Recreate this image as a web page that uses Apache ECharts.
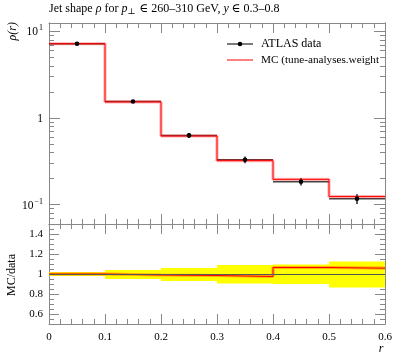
<!DOCTYPE html>
<html><head><meta charset="utf-8">
<script src="https://cdn.jsdelivr.net/npm/echarts@6/dist/echarts.min.js"></script>
<style>html,body{margin:0;padding:0;background:#fff}#c{width:397px;height:358px}</style>
</head><body><div id="c"></div>
<script>
// ---- data ----
const binEdges = [0, 0.1, 0.2, 0.3, 0.4, 0.5, 0.6];
const binCenters = [0.05, 0.15, 0.25, 0.35, 0.45, 0.55];
const dataValues = [7.2, 1.55, 0.63, 0.33, 0.184, 0.117];
const dataErrors = [0.14, 0.06, 0.04, 0.03, 0.018, 0.015];
const mcValues = [7.2, 1.535, 0.62, 0.322, 0.196, 0.124];
const ratioValues = [1.0, 0.99, 0.985, 0.975, 1.065, 1.058];
const ratioBandLow = [0.98, 0.95, 0.93, 0.905, 0.90, 0.865];
const ratioBandHigh = [1.02, 1.04, 1.06, 1.09, 1.095, 1.125];
const yLogTicks = [0.1, 1, 10];
const ratioTicks = [0.6, 0.8, 1, 1.2, 1.4];
const xTickLabels = ['0', '0.1', '0.2', '0.3', '0.4', '0.5', '0.6'];

// ---- helpers ----
const FONT = "'Liberation Serif', 'DejaVu Serif', serif";
const AX = '#888';
function stepPts(vals) {
  const pts = [];
  vals.forEach((v, i) => { pts.push([binEdges[i], v]); pts.push([binEdges[i + 1], v]); });
  return pts;
}
const logMinor = [];
[-2, -1, 0, 1].forEach(k => { for (let m = 2; m <= 9; m++) { const v = m * Math.pow(10, k); if (v >= 0.0598 && v <= 12.5) logMinor.push(+v.toPrecision(3)); } });
const ratioMinor = [];
for (let i = 0; i <= 20; i++) ratioMinor.push(+(0.5 + i * 0.05).toFixed(2));

function xAxisCfg(grid, pos, labels) {
  return {
    type: 'value', gridIndex: grid, position: pos, min: 0, max: 0.6, interval: 0.1,
    axisLine: { show: true, lineStyle: { color: AX, width: 1 } },
    axisTick: { show: true, inside: true, length: 10, lineStyle: { color: AX } },
    minorTick: { show: true, splitNumber: 5, length: 5, lineStyle: { color: AX } },
    splitLine: { show: false }, minorSplitLine: { show: false },
    axisLabel: labels ? {
      show: true, margin: 8, color: '#000', fontFamily: FONT, fontSize: 11,
      formatter: v => xTickLabels[Math.round(v * 10)]
    } : { show: false }
  };
}
function logAxis(pos, ticks, len, labels) {
  return {
    type: 'log', logBase: 10, gridIndex: 0, position: pos, min: 0.0598, max: 12.5,
    axisLine: { show: true, lineStyle: { color: AX } },
    axisTick: { show: true, inside: true, length: len, customValues: ticks, lineStyle: { color: AX } },
    splitLine: { show: false },
    axisLabel: labels ? {
      show: true, customValues: yLogTicks, margin: 6, color: '#000', fontFamily: FONT, fontSize: 11,
      formatter: v => {
        if (Math.abs(v - 1) < 1e-6) return '{m|1}';
        if (v > 1) return '{m|10}{s|1}';
        return '{m|10}{s|\u22121}';
      },
      rich: {
        m: { fontFamily: FONT, fontSize: 11.5, color: '#000', lineHeight: 14, verticalAlign: 'bottom' },
        s: { fontFamily: FONT, fontSize: 8, color: '#000', lineHeight: 14, verticalAlign: 'top', padding: [0, 0, 6, 1] }
      }
    } : { show: false }
  };
}
function ratioAxis(pos, ticks, len, labels) {
  return {
    type: 'value', gridIndex: 1, position: pos, min: 0.5, max: 1.5,
    axisLine: { show: true, lineStyle: { color: AX } },
    axisTick: { show: true, inside: true, length: len, customValues: ticks, lineStyle: { color: AX } },
    splitLine: { show: false },
    axisLabel: labels ? {
      show: true, customValues: ratioTicks, margin: 6, color: '#000', fontFamily: FONT, fontSize: 11,
      formatter: v => String(+v.toFixed(1))
    } : { show: false }
  };
}

const dataItems = binCenters.map((c, i) => [binEdges[i], binEdges[i + 1], c, dataValues[i], dataErrors[i]]);
const bandItems = binCenters.map((c, i) => [binEdges[i], binEdges[i + 1], ratioBandLow[i], ratioBandHigh[i]]);

const option = {
  animation: false,
  backgroundColor: '#fff',
  textStyle: { fontFamily: FONT },
  grid: [
    { left: 49, right: 12, top: 23, height: 201, containLabel: false },
    { left: 49, right: 12, top: 224, height: 100, containLabel: false }
  ],
  xAxis: [
    xAxisCfg(0, 'bottom', false),
    xAxisCfg(0, 'top', false),
    xAxisCfg(1, 'bottom', true),
    xAxisCfg(1, 'top', false)
  ],
  yAxis: [
    logAxis('left', yLogTicks, 11, true),
    logAxis('left', logMinor, 5, false),
    logAxis('right', yLogTicks, 11, false),
    logAxis('right', logMinor, 5, false),
    ratioAxis('left', ratioTicks, 10, true),
    ratioAxis('left', ratioMinor, 5, false),
    ratioAxis('right', ratioTicks, 10, false),
    ratioAxis('right', ratioMinor, 5, false)
  ],
  series: [
    {
      type: 'custom', xAxisIndex: 0, yAxisIndex: 0, silent: true, z: 2,
      data: dataItems, encode: { x: 2, y: 3 },
      renderItem: (p, api) => {
        const a = api.coord([api.value(0), api.value(3)]);
        const b = api.coord([api.value(1), api.value(3)]);
        return { type: 'line', shape: { x1: a[0], y1: a[1], x2: b[0], y2: b[1] }, style: { stroke: '#444', lineWidth: 1.5 } };
      }
    },
    {
      type: 'line', xAxisIndex: 0, yAxisIndex: 0, data: stepPts(mcValues), symbol: 'none', silent: true, z: 3,
      lineStyle: { color: 'rgba(255,0,0,0.3)', width: 3.2 }
    },
    {
      type: 'line', xAxisIndex: 0, yAxisIndex: 0, data: stepPts(mcValues), symbol: 'none', silent: true, z: 4,
      lineStyle: { color: '#ff0000', width: 1 }
    },
    {
      type: 'custom', xAxisIndex: 0, yAxisIndex: 0, silent: true, z: 5,
      data: dataItems, encode: { x: 2, y: 3 },
      renderItem: (p, api) => {
        const x = api.value(2), y = api.value(3), e = api.value(4);
        const c = api.coord([x, y]);
        const lo = api.coord([x, y - e]);
        const hi = api.coord([x, y + e]);
        return {
          type: 'group', children: [
            { type: 'line', shape: { x1: lo[0], y1: lo[1], x2: hi[0], y2: hi[1] }, style: { stroke: '#000', lineWidth: 1.3 } },
            { type: 'circle', shape: { cx: c[0], cy: c[1], r: 2.3 }, style: { fill: '#000' } }
          ]
        };
      }
    },
    {
      type: 'custom', xAxisIndex: 2, yAxisIndex: 4, silent: true, z: 2,
      data: bandItems, encode: { x: 0, y: 2 },
      renderItem: (p, api) => {
        const a = api.coord([api.value(0), api.value(3)]);
        const b = api.coord([api.value(1), api.value(2)]);
        return { type: 'rect', shape: { x: a[0], y: a[1], width: b[0] - a[0], height: b[1] - a[1] }, style: { fill: '#ffff00' } };
      },
      markLine: {
        silent: true, symbol: 'none', label: { show: false },
        lineStyle: { color: '#555', width: 1, type: 'solid' },
        data: [{ yAxis: 1 }]
      }
    },
    {
      type: 'line', xAxisIndex: 2, yAxisIndex: 4, data: stepPts(ratioValues), symbol: 'none', silent: true, z: 3,
      lineStyle: { color: 'rgba(255,60,0,0.4)', width: 3.2 }
    },
    {
      type: 'line', xAxisIndex: 2, yAxisIndex: 4, data: stepPts(ratioValues), symbol: 'none', silent: true, z: 4,
      lineStyle: { color: '#ff0000', width: 1 }
    }
  ],
  graphic: [
    {
      type: 'text', left: 49, top: 3, silent: true,
      style: {
        text: '{n|Jet shape }{i|\u03C1}{n| for }{i|p}{sub|\u22A5}{n| \u2208 260\u2013310 GeV, }{i|y}{n| \u2208 0.3\u20130.8}',
        rich: {
          n: { fontFamily: FONT, fontSize: 12, fill: '#000' },
          i: { fontFamily: FONT, fontSize: 12, fontStyle: 'italic', fill: '#000' },
          sub: { fontFamily: FONT, fontSize: 8.5, fill: '#000', padding: [6, 1, 0, 0] }
        }
      }
    },
    {
      type: 'text', x: 13, y: 22, rotation: Math.PI / 2, silent: true,
      style: { text: '\u03C1(r)', fontFamily: FONT, fontSize: 12, fontStyle: 'italic', fill: '#000', align: 'right', verticalAlign: 'middle' }
    },
    {
      type: 'text', x: 12, y: 275, rotation: Math.PI / 2, silent: true,
      style: { text: 'MC/data', fontFamily: FONT, fontSize: 12, fill: '#000', align: 'center', verticalAlign: 'middle' }
    },
    {
      type: 'text', x: 381, y: 349, silent: true,
      style: { text: 'r', fontFamily: FONT, fontSize: 12, fontStyle: 'italic', fill: '#000', align: 'center', verticalAlign: 'middle' }
    },
    { type: 'line', silent: true, shape: { x1: 227, y1: 44, x2: 253, y2: 44 }, style: { stroke: '#222', lineWidth: 1.2 } },
    { type: 'circle', silent: true, shape: { cx: 240, cy: 44, r: 2.3 }, style: { fill: '#000' } },
    { type: 'text', x: 261, y: 44, silent: true, style: { text: 'ATLAS data', fontFamily: FONT, fontSize: 12, fill: '#000', verticalAlign: 'middle' } },
    { type: 'line', silent: true, shape: { x1: 227, y1: 60, x2: 253, y2: 60 }, style: { stroke: '#ff0000', lineWidth: 1 } },
    { type: 'text', x: 261, y: 60, silent: true, style: { text: 'MC (tune-analyses.weight', fontFamily: FONT, fontSize: 11.2, fill: '#000', verticalAlign: 'middle' } }
  ]
};
const chart = echarts.init(document.getElementById('c'), null, { renderer: 'canvas' });
chart.setOption(option);
</script>
</body></html>
